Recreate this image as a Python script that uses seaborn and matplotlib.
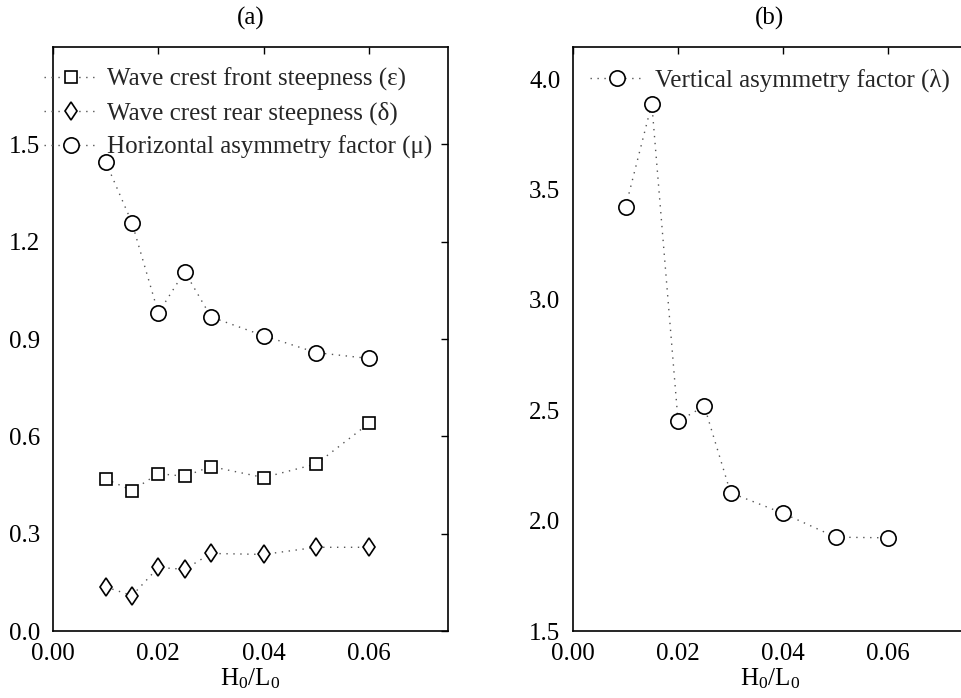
import matplotlib
matplotlib.use("Agg")
import matplotlib.pyplot as plt
import seaborn as sns
import numpy as np
from matplotlib.ticker import FormatStrFormatter

sns.set_theme(style="white")
plt.rcParams['font.family'] = ['Liberation Serif', 'DejaVu Serif']
plt.rcParams['mathtext.fontset'] = 'custom'
plt.rcParams['mathtext.rm'] = 'Liberation Serif'
plt.rcParams['mathtext.it'] = 'Liberation Serif:italic'

steep = [0.01, 0.015, 0.02, 0.025, 0.03, 0.04, 0.05, 0.06]
front_eps = [0.469, 0.433, 0.485, 0.477, 0.507, 0.473, 0.515, 0.640]
rear_delta = [0.136, 0.109, 0.196, 0.190, 0.239, 0.236, 0.258, 0.258]
horiz_mu = [1.446, 1.258, 0.980, 1.108, 0.968, 0.910, 0.858, 0.840]
vert_lambda = [3.42, 3.888, 2.45, 2.518, 2.126, 2.033, 1.925, 1.922]

xticks = [0.00, 0.02, 0.04, 0.06]
yticks_a = [0.0, 0.3, 0.6, 0.9, 1.2, 1.5]
yticks_b = [1.5, 2.0, 2.5, 3.0, 3.5, 4.0]

fig = plt.figure(figsize=(9.61, 6.98), dpi=100)
axa = fig.add_axes([53/961, 67/698, 395/961, 584/698])
axb = fig.add_axes([573/961, 67/698, 394/961, 584/698])

fs = 18
line_kw = dict(color='#555555', linestyle=(0, (1, 4)), linewidth=1.0,
               markerfacecolor='white', markeredgecolor='black', markeredgewidth=1.2)

sns.lineplot(x=steep, y=front_eps, ax=axa, marker='s', markersize=8.5,
             label='Wave crest front steepness (ε)', sort=False, **line_kw)
sns.lineplot(x=steep, y=rear_delta, ax=axa, marker='d', markersize=9.5,
             label='Wave crest rear steepness (δ)', sort=False, **line_kw)
sns.lineplot(x=steep, y=horiz_mu, ax=axa, marker='o', markersize=11,
             label='Horizontal asymmetry factor (μ)', sort=False, **line_kw)
sns.lineplot(x=steep, y=vert_lambda, ax=axb, marker='o', markersize=11,
             label='Vertical asymmetry factor (λ)', sort=False, **line_kw)

for ax, yt, ylim, title in [(axa, yticks_a, (0, 1.8), '(a)'), (axb, yticks_b, (1.5, 4.145), '(b)')]:
    ax.set_xlim(0, 0.075)
    ax.set_ylim(*ylim)
    ax.set_xticks(xticks)
    ax.set_yticks(yt)
    ax.xaxis.set_major_formatter(FormatStrFormatter('%.2f'))
    ax.yaxis.set_major_formatter(FormatStrFormatter('%.1f'))
    ax.tick_params(direction='in', length=5, width=1, top=True, right=(ax is axa),
                   labelsize=fs, colors='black')
    ax.tick_params(axis='x', pad=9)
    ax.tick_params(axis='y', pad=9)
    for s in ax.spines.values():
        s.set_color('black')
        s.set_linewidth(1.2)
    ax.set_xlabel(r'H$_0$/L$_0$', fontsize=fs, color='black', labelpad=1)
    ax.set_ylabel('')
    ax.set_title(title, fontsize=fs, color='black', pad=16)
    ax.grid(False)

axa.legend(loc='upper left', bbox_to_anchor=(-0.022, 0.965), frameon=False,
           fontsize=fs, handlelength=2.1, handletextpad=0.4, labelspacing=0.42,
           borderaxespad=0, borderpad=0)
axb.legend(loc='upper left', bbox_to_anchor=(0.043, 0.963), frameon=False,
           fontsize=fs, handlelength=2.2, handletextpad=0.4, borderaxespad=0,
           borderpad=0)

fig.savefig('out.png', dpi=100)
